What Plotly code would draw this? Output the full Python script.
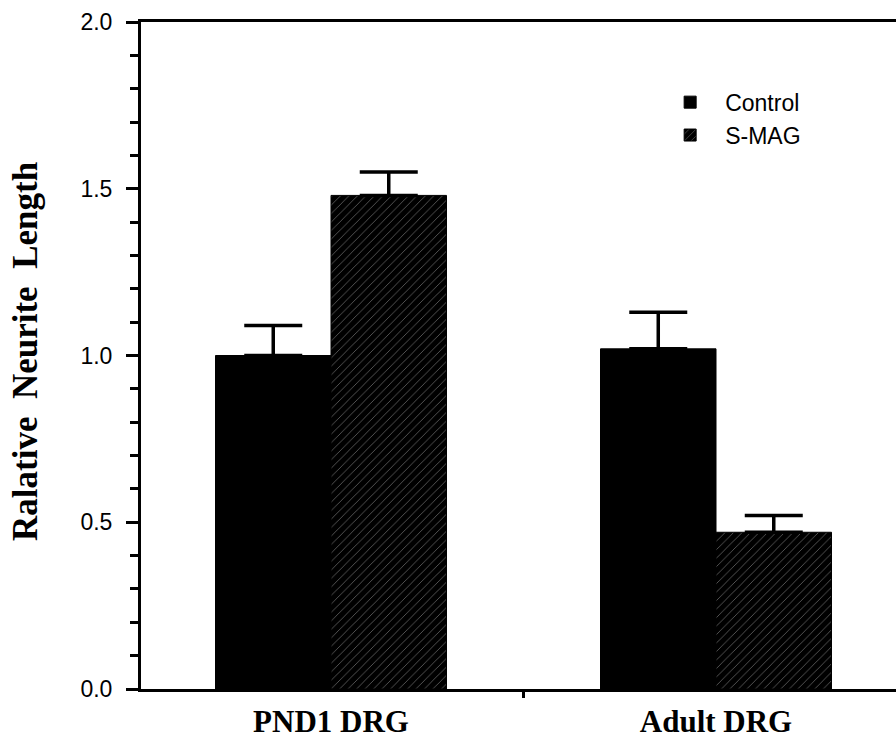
import plotly.graph_objects as go

categories = ["PND1 DRG", "Adult DRG"]
control_vals = [1.00, 1.02]
control_err = [0.09, 0.11]
smag_vals = [1.48, 0.47]
smag_err = [0.07, 0.05]
ytick_vals = [0.0, 0.5, 1.0, 1.5, 2.0]
ytick_text = ["0.0", "0.5", "1.0", "1.5", "2.0"]

fig = go.Figure()
fig.add_trace(go.Bar(
    name="Control", x=categories, y=control_vals,
    marker=dict(color="black", line=dict(color="black", width=1)),
    error_y=dict(type="data", array=control_err, arrayminus=[0, 0], symmetric=False,
                 color="black", thickness=3.5, width=29),
))
fig.add_trace(go.Bar(
    name="S-MAG", x=categories, y=smag_vals,
    marker=dict(color="black", line=dict(color="black", width=1),
                pattern=dict(shape="/", fgcolor="#e0e0e0", bgcolor="black",
                             size=6, solidity=0.12)),
    error_y=dict(type="data", array=smag_err, arrayminus=[0, 0], symmetric=False,
                 color="black", thickness=3.5, width=29),
))

fig.update_layout(
    width=896, height=746,
    margin=dict(l=141, r=0, t=22, b=57),
    paper_bgcolor="white", plot_bgcolor="white",
    barmode="group", bargap=0.4, bargroupgap=0,
    showlegend=True,
    legend=dict(x=0.681, y=0.912, xanchor="left", yanchor="top",
                font=dict(family="Liberation Sans, Arial", size=23, color="black"),
                bgcolor="rgba(0,0,0,0)", itemwidth=60, tracegroupgap=0),
    font=dict(family="Liberation Sans, Arial", color="black"),
)

fig.update_xaxes(
    type="category", range=[-0.4935, 1.4675],
    showline=True, linecolor="black", linewidth=3, mirror=True,
    ticks="outside", tickson="boundaries", ticklen=6, tickwidth=2.5, tickcolor="black",
    tickfont=dict(family="Liberation Serif, Times New Roman", size=31, color="black", weight="bold"),
    ticklabelstandoff=3,
    showgrid=False, zeroline=False,
)
fig.update_yaxes(
    range=[0, 2.0],
    tickvals=ytick_vals, ticktext=ytick_text,
    showline=True, linecolor="black", linewidth=3, mirror=False,
    ticks="outside", ticklen=12, tickwidth=3, tickcolor="black",
    minor=dict(dtick=0.1, ticks="outside", ticklen=8, tickwidth=2.5, tickcolor="black", showgrid=False),
    tickfont=dict(family="Liberation Sans, Arial", size=23, color="black"),
    ticklabelstandoff=9,
    showgrid=False, zeroline=False,
)

fig.add_annotation(
    text="Ralative  Neurite  Length",
    xref="paper", yref="paper", x=(26 - 141) / 755, y=(689 - 352) / 667,
    xanchor="center", yanchor="middle", textangle=-90, showarrow=False,
    font=dict(family="Liberation Serif, Times New Roman", size=35, color="black", weight="bold"),
)

fig.write_html("out.html")
